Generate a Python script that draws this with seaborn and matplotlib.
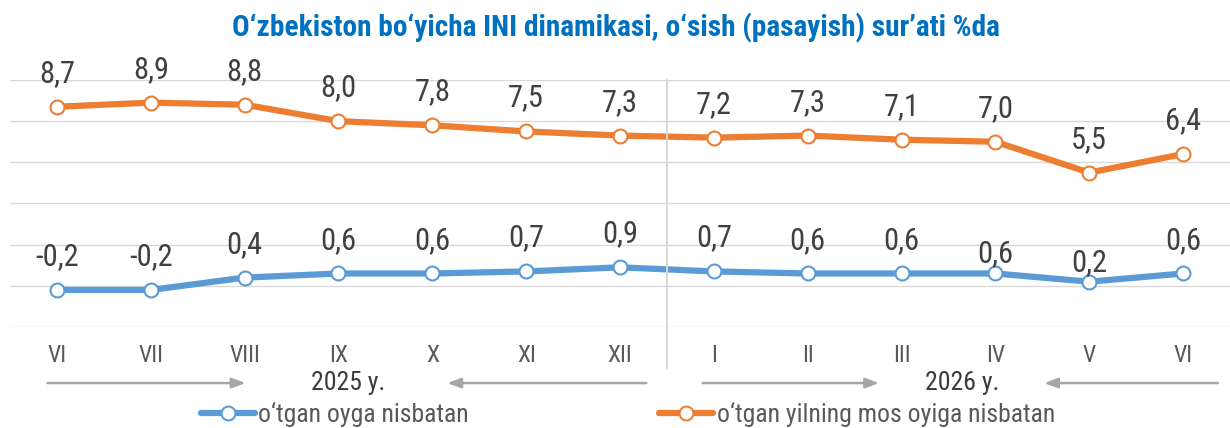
import numpy as np
import pandas as pd
import matplotlib
matplotlib.use('Agg')
import matplotlib.pyplot as plt
import matplotlib.transforms as mtransforms
from matplotlib.lines import Line2D
import seaborn as sns

# Chart data.
months = ['VI', 'VII', 'VIII', 'IX', 'X', 'XI', 'XII', 'I', 'II', 'III', 'IV', 'V', 'VI']
month_on_month = [-0.2, -0.2, 0.4, 0.6, 0.6, 0.7, 0.9, 0.7, 0.6, 0.6, 0.6, 0.2, 0.6]
year_on_year = [8.7, 8.9, 8.8, 8.0, 7.8, 7.5, 7.3, 7.2, 7.3, 7.1, 7.0, 5.5, 6.4]
years = ['2025 y.', '2026 y.']
series_names = ['o‘tgan oyga nisbatan', 'o‘tgan yilning mos oyiga nisbatan']
title = 'O‘zbekiston bo‘yicha INI dinamikasi, o‘sish (pasayish) sur’ati %da'

BLUE = '#5B9BD5'
ORANGE = '#ED7D31'
TEXT = '#404040'
GRAY = '#A6A6A6'

df = pd.DataFrame({'idx': range(len(months)), 'mom': month_on_month, 'yoy': year_on_year})

sns.set_style('white')
plt.rcParams['font.family'] = ['Roboto Condensed', 'Liberation Sans Narrow', 'Roboto', 'DejaVu Sans']

fig = plt.figure(figsize=(12.3, 4.28), dpi=100)
ax = fig.add_axes([10 / 1230, 1 - 327 / 428, 1220 / 1230, 247 / 428])

for col, color in [('mom', BLUE), ('yoy', ORANGE)]:
    sns.lineplot(data=df, x='idx', y=col, ax=ax, color=color, linewidth=4.5,
                 marker='o', markersize=10, markerfacecolor='white',
                 markeredgecolor=color, markeredgewidth=1.5, solid_joinstyle='round')

# data labels; a couple of blue ones sit closer to the line in the original
nudge = {10: 14, 11: 14}
for i, v in enumerate(month_on_month):
    ax.annotate(f'{v:.1f}'.replace('.', ','), (i, v), xytext=(0, nudge.get(i, 24)),
                textcoords='offset points', ha='center', va='center', fontsize=22, color=TEXT)
for i, v in enumerate(year_on_year):
    ax.annotate(f'{v:.1f}'.replace('.', ','), (i, v), xytext=(0, 24),
                textcoords='offset points', ha='center', va='center', fontsize=22, color=TEXT)

ax.set_xlim(-0.5, len(months) - 0.5)
ax.set_ylim(-2, 10)
ax.set_yticks(np.arange(-2, 11, 2))
ax.set_yticklabels([])
ax.set_xticks(range(len(months)))
ax.set_xticklabels(months, fontsize=17, color='#595959')
ax.tick_params(axis='x', length=0, pad=12)
ax.tick_params(axis='y', length=0)
ax.set_xlabel('')
ax.set_ylabel('')
ax.grid(axis='y', color='#D9D9D9', linewidth=1)
for s in ax.spines.values():
    s.set_visible(False)

# year divider
ax.axvline(6.5, ymin=-0.166, ymax=1, color='#D9D9D9', linewidth=1.5, clip_on=False)

# year arrows and labels under the month ticks
trans = mtransforms.blended_transform_factory(ax.transData, ax.transAxes)
arrow_y = -0.227
arrows = [(-0.13, 2.04), (6.31, 4.13), (6.85, 8.79), (12.4, 10.49)]
for x0, x1 in arrows:
    ax.annotate('', xy=(x1, arrow_y), xytext=(x0, arrow_y), xycoords=trans, textcoords=trans,
                arrowprops=dict(arrowstyle='-|>,head_length=0.8,head_width=0.3',
                                color=GRAY, linewidth=1.8), annotation_clip=False)
for x, label in zip([3.1, 9.65], years):
    ax.text(x, arrow_y, label, transform=trans, ha='center', va='center',
            fontsize=18.5, color='#3a3a3a')

handles = [Line2D([], [], color=c, linewidth=4.5, marker='o', markersize=10,
                  markerfacecolor='white', markeredgecolor=c, markeredgewidth=1.5)
           for c in (BLUE, ORANGE)]
fig.legend(handles, series_names, loc='center', bbox_to_anchor=(628 / 1230, 1 - 414 / 428),
           ncol=2, frameon=False, fontsize=18.5, labelcolor='#595959', handlelength=2.1,
           handletextpad=0.15, columnspacing=7.4, borderpad=0)

fig.suptitle(title, x=616 / 1230, y=1 - 28 / 428, va='center', fontsize=21.2,
             fontweight='bold', color='#0070C0')

fig.savefig('out.png', dpi=100)
